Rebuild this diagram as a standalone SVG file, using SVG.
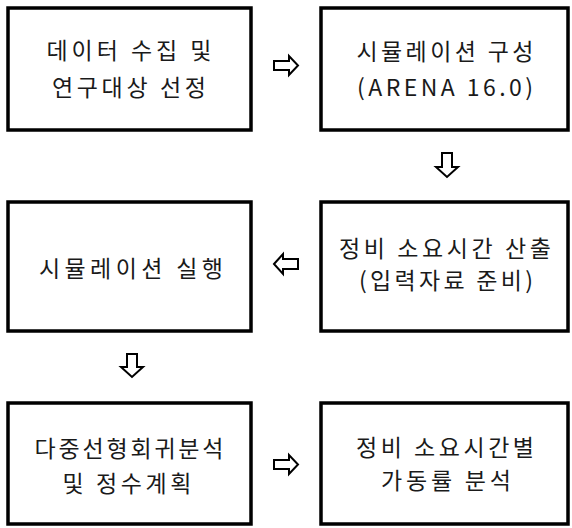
<svg xmlns="http://www.w3.org/2000/svg" width="572" height="528" viewBox="0 0 572 528">
<style>
.box{fill:#fff;stroke:#000;stroke-width:3.5}
.t{font-family:"Noto Sans CJK KR","Noto Sans",sans-serif;font-size:23px;fill:#1a1a1a;text-anchor:middle}
.arr{fill:#fff;stroke:#000;stroke-width:2;stroke-linejoin:miter}
</style>
<rect width="572" height="528" fill="#fff"/>
<g id="n1"><rect class="box" x="8" y="8" width="243" height="122"/>
<text class="t" x="129" y="59" textLength="165" lengthAdjust="spacing">데이터 수집 및</text>
<text class="t" x="129" y="96" textLength="154" lengthAdjust="spacing">연구대상 선정</text></g>
<g id="n2"><rect class="box" x="321" y="8" width="247" height="122"/>
<text class="t" x="445" y="60" textLength="177" lengthAdjust="spacing">시뮬레이션 구성</text>
<text class="t" x="445" y="96" textLength="176" lengthAdjust="spacing">(ARENA 16.0)</text></g>
<g id="n3"><rect class="box" x="8" y="202" width="243" height="129"/>
<text class="t" x="131" y="277" textLength="184" lengthAdjust="spacing">시뮬레이션 실행</text></g>
<g id="n4"><rect class="box" x="321" y="202" width="247" height="129"/>
<text class="t" x="445" y="257" textLength="212" lengthAdjust="spacing">정비 소요시간 산출</text>
<text class="t" x="446" y="289" textLength="174" lengthAdjust="spacing">(입력자료 준비)</text></g>
<g id="n5"><rect class="box" x="8" y="403" width="243" height="121"/>
<text class="t" x="129" y="457" textLength="189" lengthAdjust="spacing">다중선형회귀분석</text>
<text class="t" x="127" y="492" textLength="129" lengthAdjust="spacing">및 정수계획</text></g>
<g id="n6"><rect class="box" x="321" y="403" width="247" height="121"/>
<text class="t" x="445" y="456" textLength="178" lengthAdjust="spacing">정비 소요시간별</text>
<text class="t" x="446" y="489" textLength="130" lengthAdjust="spacing">가동률 분석</text></g>
<g id="connectors">
<polygon class="arr" points="274,61 289,61 289,56 298,65.5 289,75 289,70 274,70"/>
<polygon class="arr" points="442,153 452,153 452,167 458,167 447,177 436,167 442,167"/>
<polygon class="arr" points="274,264 283,254 283,259 298,259 298,269 283,269 283,274"/>
<polygon class="arr" points="127,354 137,354 137,367 143,367 132,377 121,367 127,367"/>
<polygon class="arr" points="274,460 289,460 289,455 298,464.5 289,474 289,469 274,469"/>
</g>
</svg>
